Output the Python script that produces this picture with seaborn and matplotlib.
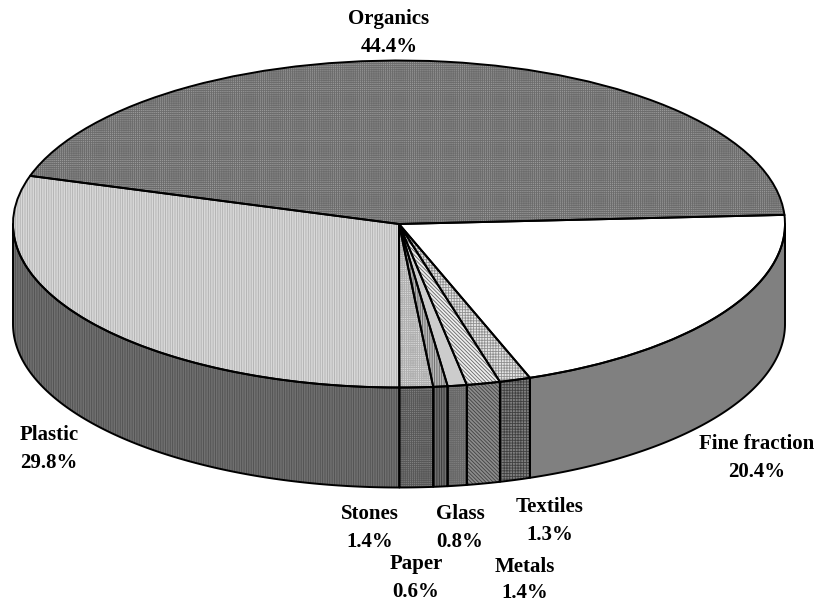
import numpy as np
import matplotlib
matplotlib.use('Agg')
import matplotlib.pyplot as plt
import seaborn as sns

sns.set_theme(style='white')
plt.rcParams['font.family'] = ['Liberation Serif', 'DejaVu Serif']
plt.rcParams['hatch.linewidth'] = 0.6

# data
categories = ['Organics', 'Plastic', 'Stones', 'Paper', 'Glass', 'Metals', 'Textiles', 'Fine fraction']
shares = [44.4, 29.8, 1.4, 0.6, 0.8, 1.4, 1.3, 20.4]

# fill styles, same order as categories
top_face = ['#989898', '#d8d8d8', '#e0e0e0', '#b8b8b8', '#cccccc', '#eeeeee', '#e6e6e6', '#ffffff']
top_hatch_color = ['#6c6c6c', '#b0b0b0', '#b0b0b0', '#666666', '#cccccc', '#666666', '#909090', '#ffffff']
top_hatch = ['+' * 8, '|' * 7, '+' * 9, '|' * 7, None, '\\' * 9, '+' * 6, None]
wall_face = ['#808080', '#707070', '#808080', '#707070', '#808080', '#8c8c8c', '#808080', '#808080']
wall_hatch_color = ['#808080', '#505050', '#585858', '#333333', '#686868', '#404040', '#404040', '#808080']
wall_hatch = [None, '|' * 7, '+' * 8, '|' * 7, '+' * 8, '\\' * 9, '+' * 6, None]

# label centres in image pixels
label_px = [(389, 33), (49, 449), (757, 458), (370, 528), (416, 578), (460, 528), (525, 580), (550, 521)]
label_gap = [1.55, 1.55, 1.55, 1.55, 1.55, 1.55, 1.45, 1.55]
label_order = [0, 1, 7, 2, 3, 4, 5, 6]

W, H = 816, 602
cx, cy, rx, ry, depth_px = 399, 224, 386, 163.5, 100
depth = depth_px / ry
start = 3.2

fig = plt.figure(figsize=(W / 100, H / 100), dpi=100)
ax = fig.add_axes([0, 0, 1, 1])

# top face pattern
wedges, _ = ax.pie(shares, startangle=start, colors=top_face, hatch=top_hatch,
                   wedgeprops={'linewidth': 0}, radius=1)
for w, c in zip(wedges, top_hatch_color):
    w.set_edgecolor(c)

# side wall, taken from the wedge angles
for w, face, hcol, h in zip(wedges, wall_face, wall_hatch_color, wall_hatch):
    for shift in (0, 360):
        t1 = max(w.theta1 + shift, 180)
        t2 = min(w.theta2 + shift, 360)
        if t2 <= t1:
            continue
        t = np.radians(np.linspace(t1, t2, 120))
        xs = np.r_[np.cos(t), np.cos(t[::-1])]
        ys = np.r_[np.sin(t), np.sin(t[::-1]) - depth]
        ax.fill(xs, ys, facecolor=face, edgecolor=hcol, hatch=h, linewidth=0, zorder=1)
        ax.fill(xs, ys, facecolor='none', edgecolor='black', linewidth=1.4, zorder=2, joinstyle='round')

# outlines of the top face
ax.pie(shares, startangle=start, colors=['none'] * len(shares),
       wedgeprops={'linewidth': 1.4, 'edgecolor': 'black', 'zorder': 3}, radius=1)

ax.set_aspect('auto')
ax.set_xlim(-cx / rx, (W - cx) / rx)
ax.set_ylim((cy - H) / ry, cy / ry)
ax.axis('off')

for i, (px, py), gap in zip(label_order, label_px, label_gap):
    fig.text(px / W, 1 - py / H, f'{categories[i]}\n{shares[i]:.1f}%', ha='center', va='center',
             fontsize=15, fontweight='bold', color='black', linespacing=gap)

fig.savefig('out.png', dpi=100)
